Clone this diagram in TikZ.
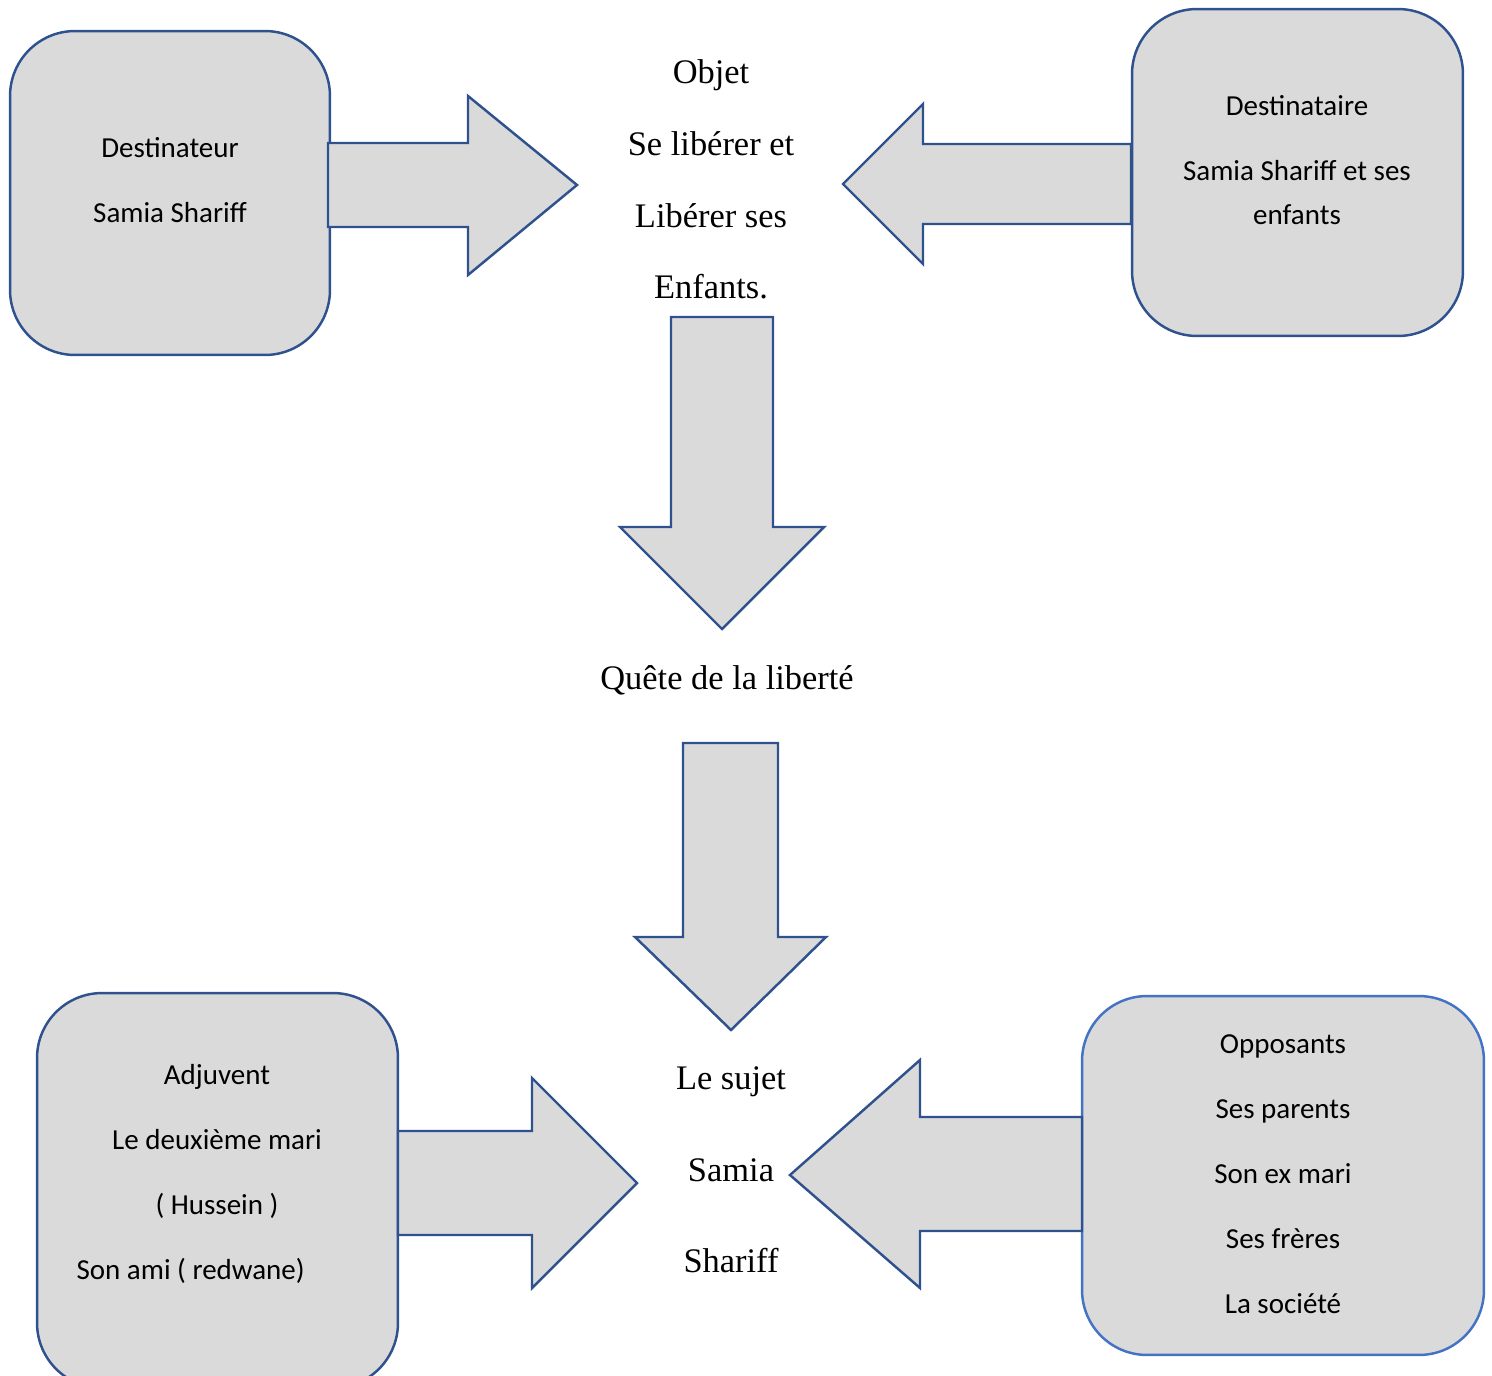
\documentclass[tikz,border=0pt]{standalone}
\usepackage{fontspec}
\setmainfont{Liberation Serif}
\newfontfamily\calibri{Carlito}
\definecolor{bordure}{HTML}{2F528F}
\definecolor{bordureclaire}{HTML}{4472C4}
\definecolor{fond}{HTML}{DADADA}
\tikzset{
  boite/.style={draw=bordure, fill=fond, line width=1.4pt, rounded corners=1.3cm},
  texteboite/.style={font=\calibri\fontsize{16.5}{25}\selectfont, align=center},
  texteserif/.style={font=\fontsize{19.6}{40.8}\selectfont, align=center},
  fleche/.style={draw=bordure, fill=fond, line width=1.4pt, line join=miter},
}
\begin{document}
\begin{tikzpicture}[x=0.02cm, y=-0.02cm]
    \useasboundingbox (0,0) rectangle (1492,1376);
    \clip (0,0) rectangle (1492,1376);
    \node[boite, minimum width=6.4cm, minimum height=6.48cm] (destinateur) at (170,193) {};
    \node[boite, minimum width=6.62cm, minimum height=6.54cm] (destinataire) at (1297.5,172.5) {};
    \node[boite, minimum width=7.22cm, minimum height=7.9cm] (adjuvant) at (217.5,1190.5) {};
    \node[boite, draw=bordureclaire, minimum width=8.04cm, minimum height=7.18cm] (opposants) at (1283,1175.5) {};
    \node[texteboite] (destinateur-txt) at (170,180.5) {Destinateur\\[12pt]Samia Shariff};
    \node[texteboite] (destinataire-txt) at (1297,160.5) {Destinataire\\[12pt]Samia Shariff et ses\\enfants};
    \node[texteboite] (adjuvant-txt) at (217,1174) {Adjuvent\\[12pt]Le deuxi\`eme mari\\[12pt]( Hussein )\\[12pt]Son ami ( redwane)\hspace*{30pt}};
    \node[texteboite] (opposants-txt) at (1283,1174) {Opposants\\[12pt]Ses parents\\[12pt]Son ex mari\\[12pt]Ses fr\`eres\\[12pt]La soci\'et\'e};
    \node[texteserif] (objet) at (711,179.5) {Objet\\Se lib\'erer et\\Lib\'erer ses\\Enfants.};
    \node[texteserif] (quete) at (727,680) {Qu\^ete de la libert\'e};
    \node[texteserif, font=\fontsize{19.6}{52}\selectfont] (sujet) at (731,1170) {Le sujet\\Samia\\Shariff};
    \draw[fleche] (328,143) -- (468,143) -- (468,96) -- (577,185) -- (468,275) -- (468,227) -- (328,227) -- cycle;
    \draw[fleche] (1131,144) -- (923,144) -- (923,104) -- (843,184) -- (923,264) -- (923,224) -- (1131,224) -- cycle;
    \draw[fleche] (671,317) -- (773,317) -- (773,527) -- (824,527) -- (722,629) -- (620,527) -- (671,527) -- cycle;
    \draw[fleche] (683,743) -- (778,743) -- (778,937) -- (826,937) -- (731,1030) -- (635,937) -- (683,937) -- cycle;
    \draw[fleche] (398,1131) -- (532,1131) -- (532,1078) -- (637,1183) -- (532,1288) -- (532,1235) -- (398,1235) -- cycle;
    \draw[fleche] (1082,1117) -- (920,1117) -- (920,1060) -- (790,1175) -- (920,1288) -- (920,1231) -- (1082,1231) -- cycle;
  \end{tikzpicture}
\end{document}
